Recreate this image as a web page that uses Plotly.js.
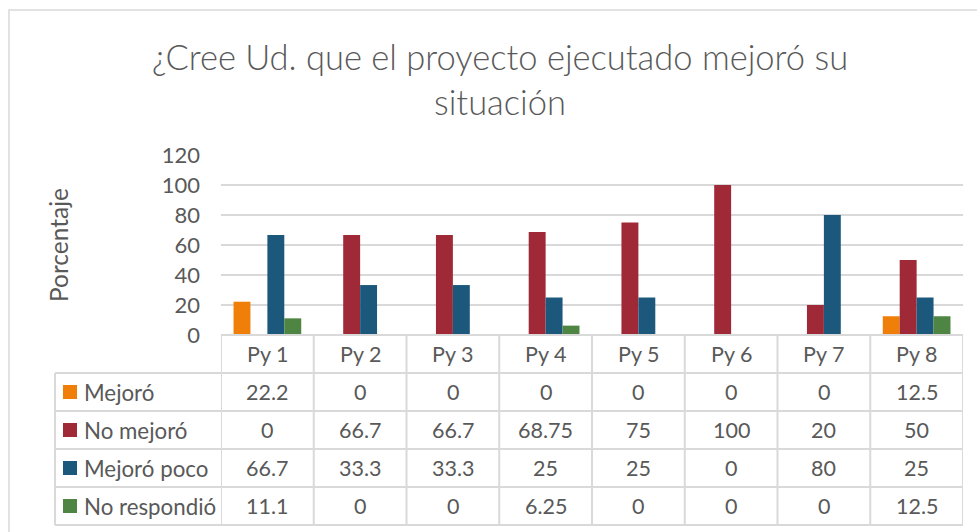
<!DOCTYPE html>
<html><head><meta charset="utf-8">
<script src="https://cdn.plot.ly/plotly-3.0.1.min.js"></script>
<style>html,body{margin:0;padding:0;background:#fff}#chart{width:977px;height:532px}</style>
</head><body><div id="chart"></div>
<script>
const categories = ["Py 1","Py 2","Py 3","Py 4","Py 5","Py 6","Py 7","Py 8"];
const seriesNames = ["Mejoró","No mejoró","Mejoró poco","No respondió"];
const mejoro      = [22.2, 0, 0, 0, 0, 0, 0, 12.5];
const noMejoro    = [0, 66.7, 66.7, 68.75, 75, 100, 20, 50];
const mejoroPoco  = [66.7, 33.3, 33.3, 25, 25, 0, 80, 25];
const noRespondio = [11.1, 0, 0, 6.25, 0, 0, 0, 12.5];
const seriesValues = [mejoro, noMejoro, mejoroPoco, noRespondio];
const colors = ["#F07F09","#9F2936","#1B587C","#4E8542"];
const yTicks = [0,20,40,60,80,100,120];

const W = 977, H = 532, ML = 221, MR = 14, MT = 155, MB = 197;
const PW = W - ML - MR, PH = H - MT - MB;
const px2x = p => (p - ML) / PW;
const px2y = p => (H - MB - p) / PH;
const FONT = "Lato, 'Open Sans', sans-serif";
const TXT = "#595959", GRID = "#D9D9D9";

const traces = seriesNames.map((n, i) => ({
  type: "bar", name: n, x: categories, y: seriesValues[i],
  marker: {color: colors[i], line: {width: 0}}, showlegend: false, hoverinfo: "skip"
}));

const tableTop = 335, rowH = 38, legendLeft = 55;
const shapes = [];
const annotations = [];
shapes.push({type:"rect", xref:"paper", yref:"paper", x0:px2x(9), x1:px2x(990), y0:px2y(545), y1:px2y(10),
  line:{color:GRID, width:1.5}, fillcolor:"rgba(0,0,0,0)"});
const nRows = seriesNames.length + 1;
for (let r = 0; r <= nRows; r++) {
  const yp = tableTop + r * rowH;
  shapes.push({type:"line", xref:"paper", yref:"paper",
    x0: r <= 0 ? 0 : px2x(legendLeft), x1: 1, y0: px2y(yp), y1: px2y(yp),
    line:{color:GRID, width:2}});
}
for (let c = 0; c <= categories.length; c++) {
  shapes.push({type:"line", xref:"x", yref:"paper", x0: c - 0.5, x1: c - 0.5,
    y0: px2y(tableTop), y1: px2y(tableTop + nRows * rowH), line:{color:GRID, width:2}});
}
shapes.push({type:"line", xref:"paper", yref:"paper", x0: px2x(legendLeft), x1: px2x(legendLeft),
  y0: px2y(tableTop + rowH), y1: px2y(tableTop + nRows * rowH), line:{color:GRID, width:2}});
categories.forEach((c, i) => {
  annotations.push({xref:"x", yref:"paper", x: i, y: px2y(tableTop + rowH/2), text: c, showarrow:false,
    xanchor:"center", yanchor:"middle", font:{family:FONT, size:21.5, color:TXT}});
});
seriesNames.forEach((n, s) => {
  const yc = tableTop + (s + 1) * rowH + rowH/2;
  shapes.push({type:"rect", xref:"paper", yref:"paper", x0: px2x(63), x1: px2x(77),
    y0: px2y(yc - 7), y1: px2y(yc + 7), fillcolor: colors[s], line:{width:0}});
  annotations.push({xref:"paper", yref:"paper", x: px2x(82), y: px2y(yc), text: n, showarrow:false,
    xanchor:"left", yanchor:"middle", font:{family:FONT, size:22.3, color:TXT}});
  seriesValues[s].forEach((v, i) => {
    annotations.push({xref:"x", yref:"paper", x: i, y: px2y(yc), text: String(v), showarrow:false,
      xanchor:"center", yanchor:"middle", font:{family:FONT, size:21.5, color:TXT}});
  });
});

const layout = {
  width: W, height: H, margin: {l: ML, r: MR, t: MT, b: MB},
  paper_bgcolor: "#fff", plot_bgcolor: "#fff",
  title: {text: "¿Cree Ud. que el proyecto ejecutado mejoró su<br>situación",
    font: {family: FONT, size: 34.5, color: TXT, weight: 300}, x: 500/W, xref: "container", xanchor:"center",
    y: 1 - 70/H, yref: "container", yanchor: "middle"},
  barmode: "group", bargap: 0.27, bargroupgap: 0,
  xaxis: {type:"category", range:[-0.5, categories.length - 0.5], showticklabels:false,
    showgrid:false, zeroline:false, showline:false, ticks:""},
  yaxis: {range:[0,120], tickvals: yTicks, showgrid:true, gridcolor: GRID, gridwidth: 2,
    zeroline:false, showline:false, ticks:"", ticklabelstandoff: 20,
    tickfont:{family:FONT, size:22, color:TXT},
    title:{text:"Porcentaje", font:{family:FONT, size:24.5, color:TXT}, standoff: 86}},
  shapes, annotations
};
Plotly.newPlot("chart", traces, layout, {displayModeBar:false, staticPlot:true});
</script></body></html>
